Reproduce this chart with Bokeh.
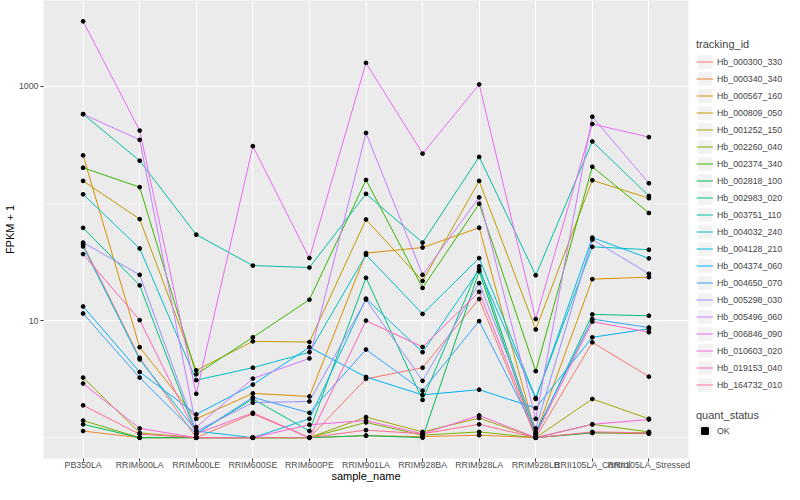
from bokeh.plotting import figure
from bokeh.layouts import row
from bokeh.models import FixedTicker, Legend, LegendItem, FactorRange, Range1d
from bokeh.embed import file_html
from bokeh.resources import INLINE

samples = ["PB350LA", "RRIM600LA", "RRIM600LE", "RRIM600SE", "RRIM600PE", "RRIM901LA",
           "RRIM928BA", "RRIM928LA", "RRIM928LB", "RRII105LA_Control", "RRII105LA_Stressed"]

# FPKM + 1 per sample (same order as samples)
Hb_000300_330 = [44.7, 4.81, 1.0, 1.6, 1.0, 3.18, 3.96, 15.3, 1.0, 6.52, 3.32]
Hb_000340_340 = [1.14, 1.0, 1.0, 1.0, 1.0, 1.04, 1.02, 1.05, 1.0, 1.1, 1.08]
Hb_000567_160 = [258, 5.92, 1.45, 2.39, 2.25, 37.7, 42.1, 62.1, 1.08, 22.6, 23.5]
Hb_000809_050 = [156, 73.6, 3.76, 6.65, 6.56, 73, 21.8, 156, 8.4, 158, 111]
Hb_001252_150 = [3.26, 1.1, 1.0, 1.0, 1.0, 1.5, 1.12, 1.47, 1.0, 2.14, 1.45]
Hb_002260_040 = [1.4, 1.0, 1.0, 1.0, 1.0, 1.35, 1.05, 1.12, 1.0, 1.3, 1.12]
Hb_002374_340 = [202, 138, 3.48, 7.2, 15.1, 159, 19, 99.6, 3.7, 206, 83]
Hb_002818_100 = [1.3, 1.0, 1.0, 1.0, 1.0, 1.04, 1.0, 26.4, 1.0, 1.1, 1.1]
Hb_002983_020 = [62, 20, 1.08, 2.14, 1.14, 23.2, 2.1, 29.1, 1.08, 11.3, 11]
Hb_003751_110 = [580, 232, 54.2, 29.5, 28.4, 121, 46.4, 250, 24.4, 339, 116]
Hb_004032_240 = [120, 41.3, 3.1, 3.96, 5.37, 36.5, 11.4, 34.2, 2.18, 42.7, 40.3]
Hb_004128_210 = [43, 4.66, 1.14, 1.0, 1.45, 15.4, 5.37, 27.3, 2.14, 51.2, 34]
Hb_004374_060 = [13.2, 3.64, 1.58, 2.84, 5.92, 3.3, 2.32, 2.57, 1.79, 7.2, 8.51]
Hb_004650_070 = [11.5, 3.26, 1.08, 2.21, 1.63, 5.66, 2.52, 9.9, 1.12, 10.3, 8.73]
Hb_005298_030 = [46.4, 24.6, 1.14, 1.99, 2.04, 15.1, 3.06, 20.9, 1.2, 49.2, 25.1]
Hb_005496_060 = [580, 350, 1.23, 3.2, 4.75, 401, 24.6, 113, 1.45, 551, 149]
Hb_006846_090 = [3600, 420, 2.37, 309, 34.2, 1590, 267, 1040, 10.3, 478, 369]
Hb_010603_020 = [2.9, 1.2, 1.0, 1.0, 1.29, 1.4, 1.08, 1.55, 1.0, 1.3, 1.43]
Hb_019153_040 = [37, 10.1, 1.08, 1.63, 1.0, 10, 5.95, 17.6, 1.05, 9.8, 7.96]
Hb_164732_010 = [1.89, 1.07, 1.0, 1.0, 1.0, 1.16, 1.08, 1.3, 1.0, 1.12, 1.1]

tracking_ids = ["Hb_000300_330", "Hb_000340_340", "Hb_000567_160", "Hb_000809_050",
                "Hb_001252_150", "Hb_002260_040", "Hb_002374_340", "Hb_002818_100",
                "Hb_002983_020", "Hb_003751_110", "Hb_004032_240", "Hb_004128_210",
                "Hb_004374_060", "Hb_004650_070", "Hb_005298_030", "Hb_005496_060",
                "Hb_006846_090", "Hb_010603_020", "Hb_019153_040", "Hb_164732_010"]
series = [Hb_000300_330, Hb_000340_340, Hb_000567_160, Hb_000809_050, Hb_001252_150,
          Hb_002260_040, Hb_002374_340, Hb_002818_100, Hb_002983_020, Hb_003751_110,
          Hb_004032_240, Hb_004128_210, Hb_004374_060, Hb_004650_070, Hb_005298_030,
          Hb_005496_060, Hb_006846_090, Hb_010603_020, Hb_019153_040, Hb_164732_010]
quant_status = ["OK"]

colors = ["#F8766D", "#EA8331", "#D89000", "#C09B00", "#A3A500", "#7CAE00", "#39B600",
          "#00BB4E", "#00BF7D", "#00C1A3", "#00BFC4", "#00BAE0", "#00B0F6", "#35A2FF",
          "#9590FF", "#C77CFF", "#E76BF3", "#FA62DB", "#FF62BC", "#FF6C91"]

FONT = "Liberation Sans"
H = 484

p = figure(width=690, height=H, output_backend="svg", toolbar_location=None,
           x_range=FactorRange(*samples, range_padding=0.2, range_padding_units="absolute"),
           y_axis_type="log", y_range=Range1d(0.664, 5420),
           min_border_left=37, min_border_right=2, min_border_top=0, min_border_bottom=0)
p.background_fill_color = "#EBEBEB"
p.border_fill_color = "white"
p.outline_line_color = None

p.yaxis.ticker = FixedTicker(ticks=[10, 1000], minor_ticks=[1, 100])
p.yaxis.major_label_overrides = {10: "10", 1000: "1000"}

for ax in (p.xaxis[0], p.yaxis[0]):
    ax.axis_line_color = None
    ax.major_tick_line_color = "#333333"
    ax.major_tick_out = 3
    ax.major_tick_in = 0
    ax.minor_tick_line_color = None
    ax.major_label_text_color = "#4D4D4D"
    ax.major_label_text_font = FONT
    ax.major_label_text_font_size = "8.8px"
    ax.major_label_standoff = 1
    ax.axis_label_text_font = FONT
    ax.axis_label_text_font_size = "11px"
    ax.axis_label_text_font_style = "normal"
    ax.axis_label_text_color = "black"
    ax.axis_label_standoff = 0
p.xaxis.axis_label = "sample_name"
p.yaxis.axis_label = "FPKM + 1"
p.xaxis.major_label_standoff = -2
p.xaxis.axis_label_standoff = -3

p.xgrid.grid_line_color = "white"
p.xgrid.grid_line_width = 1.1
p.ygrid.grid_line_color = "white"
p.ygrid.grid_line_width = 1.1
p.ygrid.minor_grid_line_color = "white"
p.ygrid.minor_grid_line_width = 0.6

for vals, c in zip(series, colors):
    p.line(x=samples, y=vals, line_color=c, line_width=1.0)
for vals in series:
    p.scatter(x=samples, y=vals, size=3.8, color="black", marker="circle")

# legend panel (proxy glyphs sit outside the visible range; only their legend swatches show)
lf = figure(width=94, height=H, output_backend="svg", toolbar_location=None,
            x_range=Range1d(0, 1), y_range=Range1d(0, 1),
            x_axis_location=None, y_axis_location=None,
            min_border_left=0, min_border_right=0, min_border_top=0, min_border_bottom=0)
lf.grid.visible = False
lf.outline_line_color = None
lf.background_fill_color = "white"

bg = lf.quad(left=[5], right=[6], top=[6], bottom=[5], fill_color="#F2F2F2", line_color=None)
items = []
for tid, c in zip(tracking_ids, colors):
    r = lf.line(x=[5, 6], y=[5, 5], line_color=c, line_width=1.0)
    items.append(LegendItem(label=tid, renderers=[bg, r]))
pt = lf.scatter(x=[5], y=[5], size=3.8, color="black", marker="square")


def style_legend(lg):
    lg.title_text_font = FONT
    lg.title_text_font_size = "11px"
    lg.title_text_font_style = "normal"
    lg.label_text_font = FONT
    lg.label_text_font_size = "8.8px"
    lg.glyph_width = 17
    lg.glyph_height = 17
    lg.label_height = 17
    lg.spacing = 0
    lg.padding = 0
    lg.margin = 0
    lg.label_standoff = 4
    lg.background_fill_alpha = 0
    lg.border_line_color = None
    lg.title_standoff = 3


leg1 = Legend(items=items, title="tracking_id", location=(6, 65))
style_legend(leg1)
leg2 = Legend(items=[LegendItem(label=quant_status[0], renderers=[bg, pt])],
              title="quant_status", location=(6, 19))
style_legend(leg2)
leg2.title_standoff = 1
lf.add_layout(leg1, "center")
lf.add_layout(leg2, "center")

open("out.html", "w").write(file_html(row(p, lf), INLINE))
